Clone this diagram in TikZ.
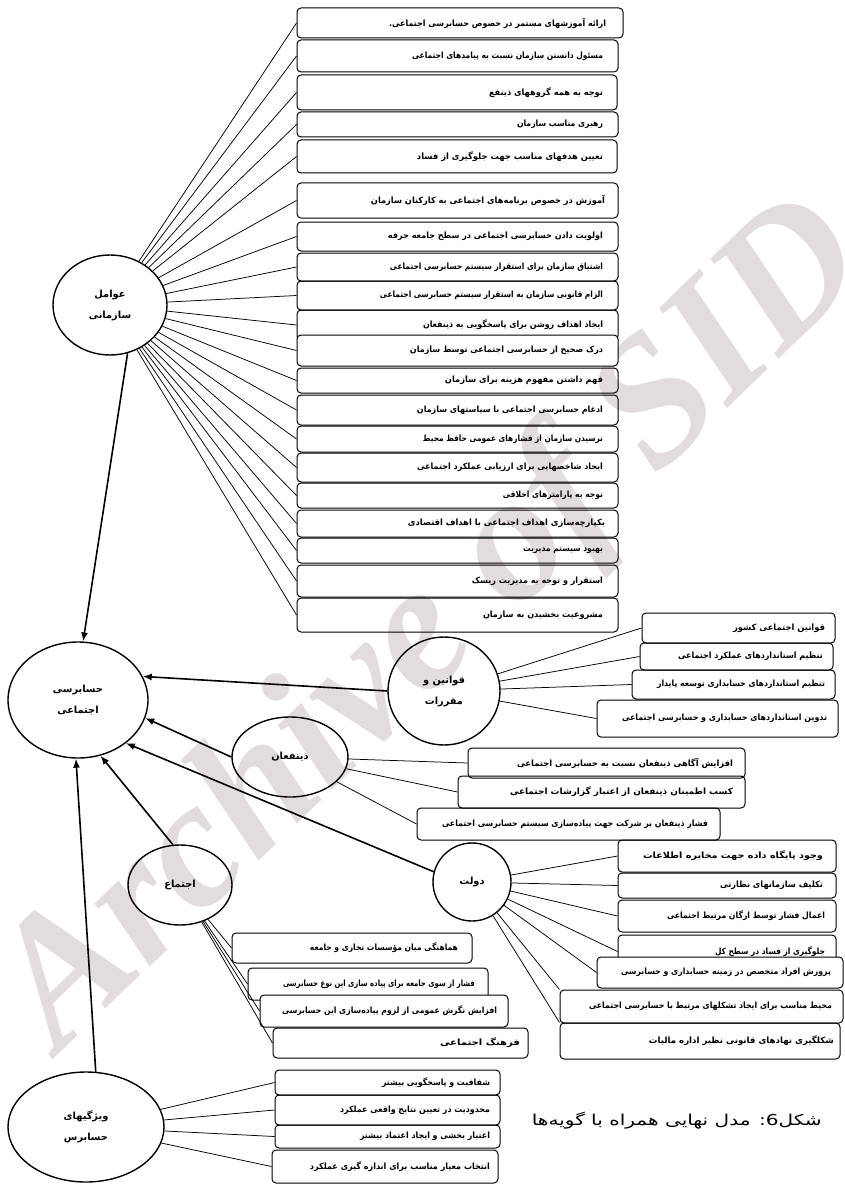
\documentclass[tikz,border=0pt]{standalone}
\usepackage{fontspec}
\usepackage{graphicx}
\usetikzlibrary{arrows.meta,shapes.geometric}
\TeXXeTstate=1
\newfontfamily\ar[Script=Arabic]{DejaVu Sans}
\newfontfamily\wmf{Liberation Serif}
\definecolor{wmcol}{RGB}{226,220,223}
\newcommand\boxfont{\ar\bfseries\fontsize{8.6}{10}\selectfont}
\newcommand\ellfont{\ar\bfseries\fontsize{9.8}{21}\selectfont}
% name x1 y1 x2 y2 textwidth rightpad text
\newcommand\bxn[9][]{%
  \pgfmathsetmacro\bw{#5-#3}\pgfmathsetmacro\bh{#6-#4}\pgfmathsetmacro\cw{#5-#3-2*#8}%
  \node[bx, #1, minimum width=\bw pt, minimum height=\bh pt] (#2) at ({(#3+#5)/2},{(#4+#6)/2})
    {\makebox[\cw pt][r]{\resizebox{#7pt}{\height}{#9}}};}
\begin{document}
\begin{tikzpicture}[x=1pt,y=-1pt,
  bx/.style={draw, line width=1pt, rounded corners=4pt, inner sep=0pt, font=\boxfont},
  ell/.style={draw, ellipse, line width=1.4pt, inner sep=0pt, align=center, font=\ellfont},
  con/.style={line width=0.75pt},
  arr/.style={line width=1.6pt, -{Latex[length=9pt,width=7pt]}}]
\useasboundingbox (0,0) rectangle (844,1185);
\fill[white] (0,0) rectangle (844,1185);
\clip (0,0) rectangle (844,1185);
% watermark
\node[text=wmcol, rotate=44, inner sep=0pt, font=\wmf\bfseries\itshape\fontsize{182}{182}\selectfont] (wm) at (436,628) {Archive of SID};

% ellipses
\node[ell, minimum width=114pt, minimum height=100pt] (OF) at (110,305) {\beginR عوامل\endR\\\beginR سازمانی\endR};
\node[ell, minimum width=140pt, minimum height=116pt] (SA) at (78,700) {\beginR حسابرسی\endR\\\beginR اجتماعی\endR};
\node[ell, minimum width=112pt, minimum height=108pt] (QM) at (444,691) {\beginR قوانین و\endR\\\beginR مقررات\endR};
\node[ell, minimum width=116pt, minimum height=80pt] (ZN) at (290,757) {\beginR ذینفعان\endR};
\node[ell, minimum width=78pt, minimum height=78pt] (DL) at (472,882) {\beginR دولت\endR};
\node[ell, minimum width=104pt, minimum height=80pt] (EJ) at (180,885) {\beginR اجتماع\endR};
\node[ell, minimum width=156pt, minimum height=110pt] (VH) at (86,1127) {\beginR ویژگیهای\endR\\\beginR حسابرس\endR};

% organisational factors
\bxn{T1}{297}{8}{623}{38}{217}{17}{\beginR ارائه آموزشهای مستمر در خصوص حسابرسی اجتماعی.\endR}
\bxn{T2}{297}{40}{618}{72}{191}{15}{\beginR مسئول دانستن سازمان نسبت به پیامدهای اجتماعی\endR}
\bxn{T3}{297}{75}{617}{110}{114}{14}{\beginR توجه به همه گروههای ذینفع\endR}
\bxn{T4}{297}{112}{618}{137}{86}{15}{\beginR رهبری مناسب سازمان\endR}
\bxn{T5}{297}{140}{617}{173}{186}{14}{\beginR تعیین هدفهای مناسب جهت جلوگیری از فساد\endR}
\bxn{T6}{297}{183}{618}{218}{234}{13}{\beginR آموزش در خصوص برنامه‌های اجتماعی به کارکنان سازمان\endR}
\bxn{T7}{297}{222}{618}{251}{215}{15}{\beginR اولویت دادن حسابرسی اجتماعی در سطح جامعه حرفه\endR}
\bxn{T8}{297}{253}{618}{281}{213}{15}{\beginR اشتیاق سازمان برای استقرار سیستم حسابرسی اجتماعی\endR}
\bxn{T9}{297}{281}{618}{310}{223}{15}{\beginR الزام قانونی سازمان به استقرار سیستم حسابرسی اجتماعی\endR}
\bxn{T10}{297}{310}{618}{340}{180}{15}{\beginR ایجاد اهداف روشن برای پاسخگویی به ذینفعان\endR}
\bxn[fill=white]{T11}{297}{335}{618}{366}{193}{15}{\beginR درک صحیح از حسابرسی اجتماعی توسط سازمان\endR}
\bxn{T12}{297}{368}{618}{393}{158}{15}{\beginR فهم داشتن مفهوم هزینه برای سازمان\endR}
\bxn{T13}{297}{395}{618}{425}{186}{15}{\beginR ادغام حسابرسی اجتماعی با سیاستهای سازمان\endR}
\bxn{T14}{297}{426}{618}{452}{180}{15}{\beginR ترسیدن سازمان از فشارهای عمومی حافظ محیط\endR}
\bxn{T15}{297}{453}{618}{482}{186}{15}{\beginR ایجاد شاخصهایی برای ارزیابی عملکرد اجتماعی\endR}
\bxn{T16}{297}{483}{618}{508}{100}{15}{\beginR توجه به پارامترهای اخلاقی\endR}
\bxn{T17}{297}{510}{618}{537}{197}{13}{\beginR یکپارچه‌سازی اهداف اجتماعی با اهداف اقتصادی\endR}
\bxn{T18}{297}{538}{618}{563}{80}{15}{\beginR بهبود سیستم مدیریت\endR}
\bxn{T19}{297}{565}{618}{597}{131}{15}{\beginR استقرار و توجه به مدیریت ریسک\endR}
\bxn{T20}{297}{598}{618}{632}{120}{15}{\beginR مشروعیت بخشیدن به سازمان\endR}

% laws
\bxn{Q1}{642}{613}{835}{643}{92}{10}{\beginR قوانین اجتماعی کشور\endR}
\bxn{Q2}{640}{643}{833}{670}{145}{10}{\beginR تنظیم استانداردهای عملکرد اجتماعی\endR}
\bxn{Q3}{632}{670}{835}{699}{168}{10}{\beginR تنظیم استانداردهای حسابداری توسعه پایدار\endR}
\bxn{Q4}{597}{700}{838}{737}{205}{11}{\beginR تدوین استانداردهای حسابداری و حسابرسی اجتماعی\endR}

% stakeholders
\bxn{Z1}{468}{748}{745}{778}{216}{12}{\beginR افزایش آگاهی ذینفعان نسبت به حسابرسی اجتماعی\endR}
\bxn{Z2}{458}{776}{745}{808}{223}{12}{\beginR کسب اطمینان ذینفعان از اعتبار گزارشات اجتماعی\endR}
\bxn{Z3}{417}{808}{720}{840}{266}{12}{\beginR فشار ذینفعان بر شرکت جهت پیاده‌سازی سیستم حسابرسی اجتماعی\endR}

% government
\bxn{D1}{618}{840}{836}{872}{180}{13}{\beginR وجود پایگاه داده جهت مخابره اطلاعات\endR}
\bxn{D2}{618}{873}{836}{898}{103}{13}{\beginR تکلیف سازمانهای نظارتی\endR}
\bxn{D3}{618}{900}{836}{932}{158}{11}{\beginR اعمال فشار توسط ارگان مرتبط اجتماعی\endR}
\bxn{D4}{618}{935}{836}{968}{110}{11}{\beginR جلوگیری از فساد در سطح کل\endR}
\bxn[fill=white]{D5}{597}{957}{843}{988}{210}{12}{\beginR پرورش افراد متخصص در زمینه حسابداری و حسابرسی\endR}
\bxn{D6}{560}{990}{843}{1023}{243}{11}{\beginR محیط مناسب برای ایجاد تشکلهای مرتبط با حسابرسی اجتماعی\endR}
\bxn{D7}{560}{1023}{840}{1059}{185}{6}{\beginR شکلگیری نهادهای قانونی نظیر اداره مالیات\endR}

% society
\bxn{E1}{232}{933}{472}{963}{148}{14}{\beginR هماهنگی میان مؤسسات تجاری و جامعه\endR}
\bxn{E2}{248}{968}{488}{1000}{192}{13}{\beginR فشار از سوی جامعه برای پیاده سازی این نوع حسابرسی\endR}
\bxn[fill=white]{E3}{260}{995}{508}{1027}{215}{11}{\beginR افزایش نگرش عمومی از لزوم پیاده‌سازی این حسابرسی\endR}
\bxn{E4}{273}{1028}{528}{1058}{80}{8}{\beginR فرهنگ اجتماعی\endR}

% auditor characteristics
\bxn{V1}{275}{1070}{500}{1095}{108}{10}{\beginR شفافیت و پاسخگویی بیشتر\endR}
\bxn{V2}{275}{1095}{500}{1125}{150}{10}{\beginR محدودیت در تعیین نتایج واقعی عملکرد\endR}
\bxn{V3}{275}{1125}{500}{1148}{130}{10}{\beginR اعتبار بخشی و ایجاد اعتماد بیشتر\endR}
\bxn{V4}{272}{1150}{498}{1183}{180}{8}{\beginR انتخاب معیار مناسب برای اندازه گیری عملکرد\endR}

% connectors
\foreach \i in {1,...,20} \draw[con] (OF) -- (T\i.west);
\foreach \i in {1,...,4} \draw[con] (QM) -- (Q\i.west);
\foreach \i in {1,...,3} \draw[con] (ZN) -- (Z\i.west);
\foreach \i in {1,...,5} \draw[con] (DL) -- (D\i.west);
\draw[con] (DL) -- (D6.north west);
\draw[con] (DL) -- (D7.north west);
\foreach \i in {1,...,4} \draw[con] (EJ) -- (E\i.west);
\foreach \i in {1,...,4} \draw[con] (VH) -- (V\i.west);

% arrows into social auditing
\draw[arr] (OF.-70) -- (SA.85);
\draw[arr] (QM.180) -- (SA.20);
\draw[arr] (ZN.180) -- (SA.-15);
\draw[arr] (DL.165) -- (SA.-42);
\draw[arr] (EJ.100) -- (SA.-68);
\draw[arr] (VH.80) -- (SA.-92);

% caption
\node[anchor=east, inner sep=0pt, font=\ar\fontsize{15}{17}\selectfont] (cap) at (822,1121) {\resizebox{290pt}{\height}{\beginR شکل6: مدل نهایی همراه با گویه‌ها\endR}};
\end{tikzpicture}
\end{document}
